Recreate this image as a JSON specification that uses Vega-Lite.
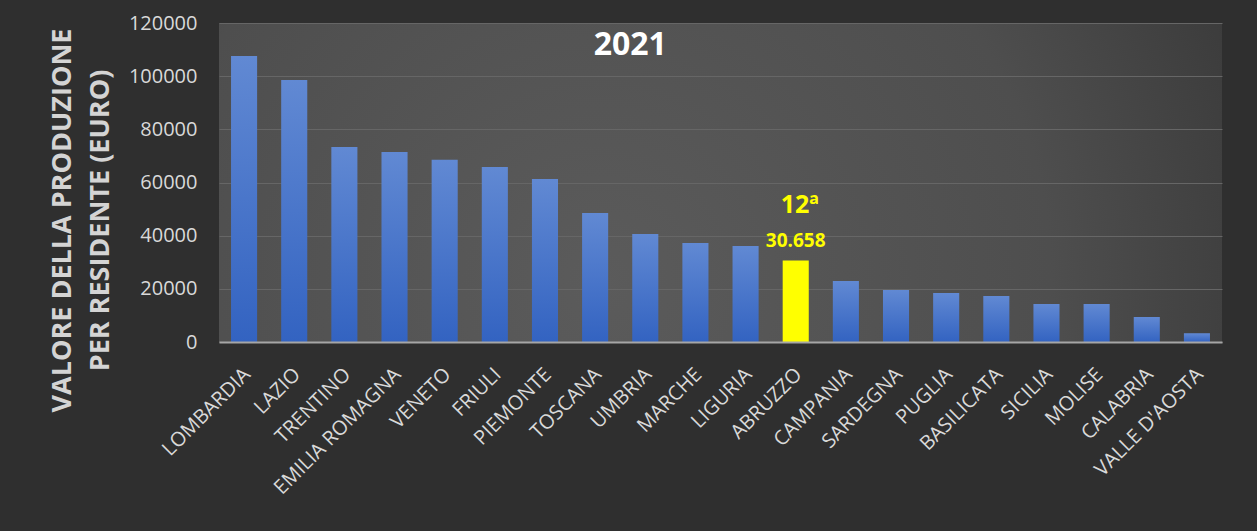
{
  "$schema": "https://vega.github.io/schema/vega-lite/v6.json",
  "width": 1003,
  "height": 319,
  "autosize": {"type": "none"},
  "padding": {"left": 219, "top": 23, "right": 35, "bottom": 189},
  "background": "#2f2f2f",
  "view": {
    "stroke": null,
    "fill": {
      "gradient": "radial",
      "x1": 0.38, "y1": 0.6, "r1": 0,
      "x2": 0.38, "y2": 0.6, "r2": 0.75,
      "stops": [
        {"offset": 0, "color": "#5b5b5b"},
        {"offset": 0.6, "color": "#4e4e4e"},
        {"offset": 1, "color": "#363636"}
      ]
    }
  },
  "datasets": {
    "regioni": [
      {"regione": "LOMBARDIA", "valore": 107600, "evidenza": false, "etichetta": "", "posizione": ""},
      {"regione": "LAZIO", "valore": 98600, "evidenza": false, "etichetta": "", "posizione": ""},
      {"regione": "TRENTINO", "valore": 73400, "evidenza": false, "etichetta": "", "posizione": ""},
      {"regione": "EMILIA ROMAGNA", "valore": 71500, "evidenza": false, "etichetta": "", "posizione": ""},
      {"regione": "VENETO", "valore": 68600, "evidenza": false, "etichetta": "", "posizione": ""},
      {"regione": "FRIULI", "valore": 65800, "evidenza": false, "etichetta": "", "posizione": ""},
      {"regione": "PIEMONTE", "valore": 61300, "evidenza": false, "etichetta": "", "posizione": ""},
      {"regione": "TOSCANA", "valore": 48500, "evidenza": false, "etichetta": "", "posizione": ""},
      {"regione": "UMBRIA", "valore": 40600, "evidenza": false, "etichetta": "", "posizione": ""},
      {"regione": "MARCHE", "valore": 37200, "evidenza": false, "etichetta": "", "posizione": ""},
      {"regione": "LIGURIA", "valore": 36100, "evidenza": false, "etichetta": "", "posizione": ""},
      {"regione": "ABRUZZO", "valore": 30658, "evidenza": true, "etichetta": "30.658", "posizione": "12ª"},
      {"regione": "CAMPANIA", "valore": 22900, "evidenza": false, "etichetta": "", "posizione": ""},
      {"regione": "SARDEGNA", "valore": 19600, "evidenza": false, "etichetta": "", "posizione": ""},
      {"regione": "PUGLIA", "valore": 18400, "evidenza": false, "etichetta": "", "posizione": ""},
      {"regione": "BASILICATA", "valore": 17300, "evidenza": false, "etichetta": "", "posizione": ""},
      {"regione": "SICILIA", "valore": 14300, "evidenza": false, "etichetta": "", "posizione": ""},
      {"regione": "MOLISE", "valore": 14300, "evidenza": false, "etichetta": "", "posizione": ""},
      {"regione": "CALABRIA", "valore": 9400, "evidenza": false, "etichetta": "", "posizione": ""},
      {"regione": "VALLE D'AOSTA", "valore": 3300, "evidenza": false, "etichetta": "", "posizione": ""}
    ],
    "titolo": [
      {"regione": "UMBRIA", "valore": 108000, "testo": "2021"}
    ]
  },
  "data": {"name": "regioni"},
  "encoding": {
    "x": {
      "field": "regione",
      "type": "nominal",
      "sort": null,
      "scale": {
        "domain": ["LOMBARDIA", "LAZIO", "TRENTINO", "EMILIA ROMAGNA", "VENETO", "FRIULI", "PIEMONTE", "TOSCANA", "UMBRIA", "MARCHE", "LIGURIA", "ABRUZZO", "CAMPANIA", "SARDEGNA", "PUGLIA", "BASILICATA", "SICILIA", "MOLISE", "CALABRIA", "VALLE D'AOSTA"],
        "paddingInner": 0.48,
        "paddingOuter": 0.24
      },
      "axis": {
        "title": null,
        "labelAngle": -45,
        "labelAlign": "right",
        "labelBaseline": "top",
        "labelFont": "Open Sans",
        "labelFontSize": 20,
        "labelColor": "#d9d9d9",
        "labelPadding": 22,
        "labelOffset": -4,
        "ticks": false,
        "domain": true,
        "domainColor": "#a6a6a6",
        "domainWidth": 2,
        "grid": false,
        "zindex": 1
      }
    },
    "y": {
      "field": "valore",
      "type": "quantitative",
      "scale": {"domain": [0, 120000]},
      "axis": {
        "title": ["VALORE DELLA PRODUZIONE", "PER RESIDENTE (EURO)"],
        "titleFont": "Open Sans",
        "titleFontSize": 27,
        "titleFontWeight": "bold",
        "titleColor": "#d4d4d4",
        "titleAngle": -90,
        "titleX": -157,
        "titleY": 197,
        "titleAlign": "center",
        "titleBaseline": "middle",
        "titleLineHeight": 38,
        "values": [0, 20000, 40000, 60000, 80000, 100000, 120000],
        "format": "d",
        "labelFont": "Open Sans",
        "labelFontSize": 20,
        "labelColor": "#d9d9d9",
        "labelPadding": 22,
        "ticks": false,
        "domain": false,
        "grid": true,
        "gridColor": "#666666",
        "gridWidth": 1
      }
    }
  },
  "layer": [
    {
      "mark": {"type": "bar"},
      "encoding": {
        "fill": {
          "condition": {"test": "datum.evidenza", "value": "#ffff00"},
          "value": {
            "gradient": "linear",
            "x1": 0, "y1": 0, "x2": 0, "y2": 1,
            "stops": [
              {"offset": 0, "color": "#6189d3"},
              {"offset": 1, "color": "#3363c1"}
            ]
          }
        }
      }
    },
    {
      "mark": {"type": "text", "font": "Open Sans", "fontWeight": "bold", "fontSize": 19, "color": "#ffff00", "baseline": "alphabetic", "dy": -14},
      "encoding": {"text": {"field": "etichetta"}}
    },
    {
      "mark": {"type": "text", "font": "Open Sans", "fontWeight": "bold", "fontSize": 25, "color": "#ffff00", "baseline": "alphabetic", "dy": -48, "dx": 4},
      "encoding": {"text": {"field": "posizione"}}
    },
    {
      "data": {"name": "titolo"},
      "mark": {"type": "text", "font": "Open Sans", "fontWeight": "bold", "fontSize": 32, "color": "#ffffff", "baseline": "alphabetic", "align": "center", "dx": -15},
      "encoding": {"text": {"field": "testo"}}
    }
  ]
}
